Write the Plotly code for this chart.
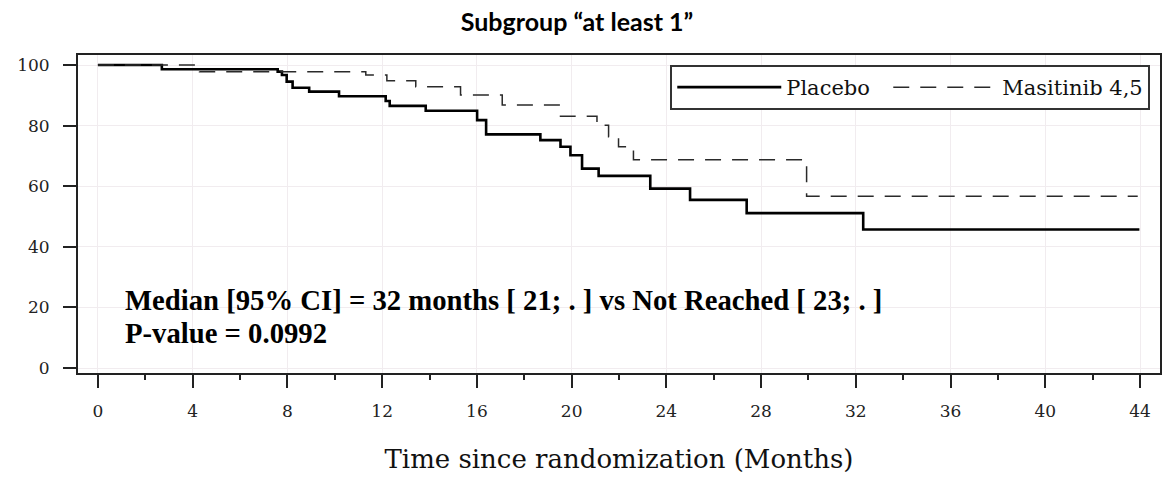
import plotly.graph_objects as go

# Kaplan-Meier step data (months, % event-free)
placebo_months = [0, 2.70, 7.59, 7.77, 7.97, 8.22, 8.92, 10.18, 12.15, 12.32, 13.84, 16.01, 16.39,
                  18.68, 19.53, 19.95, 20.44, 21.14, 23.32, 25.00, 27.39, 32.31, 43.97]
placebo_surv = [100, 98.6, 97.8, 96.7, 94.5, 92.5, 91.2, 89.7, 88.1, 86.5, 84.9, 81.8, 77.1,
                75.2, 73.0, 70.2, 65.8, 63.4, 59.2, 55.5, 51.1, 45.7, 45.7]

masitinib_months = [0, 4.29, 11.31, 12.20, 13.42, 15.31, 17.07, 19.53, 21.07, 21.56, 21.98, 22.61, 29.92, 43.90]
masitinib_surv = [100, 97.8, 96.7, 94.8, 92.8, 90.1, 86.8, 83.1, 80.1, 76.3, 73.0, 68.7, 56.7, 56.7]

x_ticks = [0, 4, 8, 12, 16, 20, 24, 28, 32, 36, 40, 44]
y_ticks = [0, 20, 40, 60, 80, 100]

title_text = "Subgroup \u201cat least 1\u201d"
x_title = "Time since randomization (Months)"
median_text = "Median [95% CI] = 32 months [ 21; . ] vs Not Reached [ 23; . ]"
pvalue_text = "P-value = 0.0992"

fig = go.Figure()
fig.add_trace(go.Scatter(
    x=placebo_months, y=placebo_surv, mode="lines", name="Placebo\u00a0\u00a0",
    line=dict(shape="hv", color="#000000", width=2.6),
))
fig.add_trace(go.Scatter(
    x=masitinib_months, y=masitinib_surv, mode="lines", name="Masitinib 4,5",
    line=dict(shape="hv", color="#2a2a2a", width=1.5, dash="16px,11px"),
))

fig.update_layout(
    width=1171, height=478,
    margin=dict(l=78, r=9, t=55, b=105),
    paper_bgcolor="white", plot_bgcolor="white",
    title=dict(text=title_text, x=577 / 1171, xanchor="center", xref="container",
               y=1 - 22 / 478, yanchor="middle", yref="container",
               font=dict(family="Lato", size=25, color="#000000", weight="bold")),
    showlegend=True,
    legend=dict(orientation="h", x=0.991, xanchor="right", y=0.9685, yanchor="top",
                bordercolor="#333333", borderwidth=2, bgcolor="white",
                font=dict(family="DejaVu Serif", size=21, color="#111111"),
                itemwidth=104, tracegroupgap=0),
    annotations=[
        dict(text=median_text, x=1.05, y=22.5, xref="x", yref="y", xanchor="left", yanchor="middle",
             showarrow=False, font=dict(family="Liberation Serif", size=28.7, color="#000000", weight="bold")),
        dict(text=pvalue_text, x=1.05, y=11.6, xref="x", yref="y", xanchor="left", yanchor="middle",
             showarrow=False, font=dict(family="Liberation Serif", size=28.7, color="#000000", weight="bold")),
    ],
)

fig.update_xaxes(
    range=[-0.84, 44.84], tickvals=x_ticks, ticktext=[str(v) for v in x_ticks],
    ticks="outside", ticklen=13, tickwidth=2, tickcolor="#222222",
    minor=dict(tickvals=[2, 6, 10, 14, 18, 22, 26, 30, 34, 38, 42], ticks="outside", ticklen=5,
               tickwidth=2, tickcolor="#222222", showgrid=False),
    showgrid=True, gridcolor="#f1ecef", gridwidth=1,
    showline=True, linecolor="#222222", linewidth=2, mirror=True,
    zeroline=False,
    tickfont=dict(family="DejaVu Serif", size=17, color="#222222"),
    ticklabelstandoff=9,
    title=dict(text=x_title, font=dict(family="DejaVu Serif", size=26, color="#111111"), standoff=29),
)
fig.update_yaxes(
    range=[-1.65, 103.3], tickvals=y_ticks, ticktext=[str(v) for v in y_ticks],
    ticks="outside", ticklen=13, tickwidth=2, tickcolor="#222222",
    showgrid=True, gridcolor="#f1ecef", gridwidth=1,
    showline=True, linecolor="#222222", linewidth=2, mirror=True,
    zeroline=False,
    tickfont=dict(family="DejaVu Serif", size=17, color="#222222"),
    ticklabelstandoff=10,
)

fig.write_html("out.html")
